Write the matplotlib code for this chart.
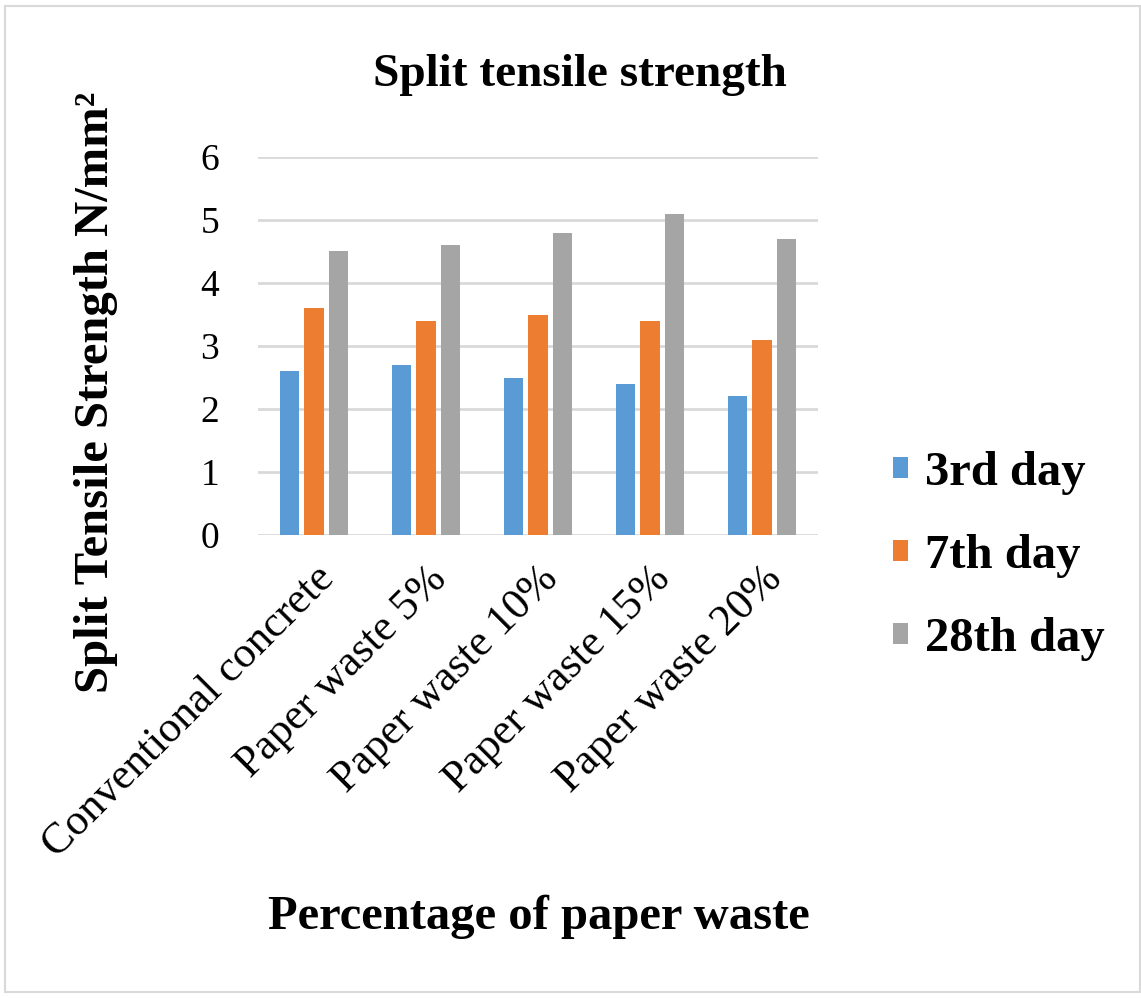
import numpy as np
import matplotlib
matplotlib.use('Agg')
import matplotlib.pyplot as plt
from matplotlib.patches import Rectangle

categories = ['Conventional concrete', 'Paper waste 5%', 'Paper waste 10%',
              'Paper waste 15%', 'Paper waste 20%']
day3 = [2.6, 2.7, 2.5, 2.4, 2.2]
day7 = [3.6, 3.4, 3.5, 3.4, 3.1]
day28 = [4.5, 4.6, 4.8, 5.1, 4.7]
series = [('3rd day', day3, '#5B9BD5'),
          ('7th day', day7, '#ED7D31'),
          ('28th day', day28, '#A5A5A5')]

plt.rcParams['font.family'] = ['Liberation Serif', 'DejaVu Serif']

fig = plt.figure(figsize=(11.41, 9.98), dpi=100)
fig.patches.append(Rectangle((0.004, 0.006), 0.995, 0.988, transform=fig.transFigure,
                             fill=False, edgecolor='#D9D9D9', linewidth=1.5))

ax = fig.add_axes([0.2261, 0.4639, 0.4908, 0.3788])
x = np.arange(len(categories))
w = 0.17
pitch = 0.215
handles = []
for i, (name, vals, col) in enumerate(series):
    b = ax.bar(x + (i - 1) * pitch, vals, width=w, color=col, label=name, zorder=3)
    handles.append(b)

ax.set_xlim(-0.5, len(categories) - 0.5)
ax.set_ylim(0, 6)
ax.set_yticks(range(0, 7))
ax.yaxis.grid(True, color='#D9D9D9', linewidth=2, zorder=0)
ax.set_axisbelow(True)
for s in ax.spines.values():
    s.set_visible(False)
ax.tick_params(axis='both', length=0)
ax.tick_params(axis='y', pad=28, labelsize=27)
ax.tick_params(axis='x', pad=17, labelsize=31.5)
ax.set_xticks(x)
ax.set_xticklabels(categories, rotation=45, ha='right', rotation_mode='anchor')

fig.text(0.508, 0.925, 'Split tensile strength', ha='center', va='center',
         fontsize=34, fontweight='bold')
fig.text(0.084, 0.607, 'Split Tensile Strength N/mm²', rotation=90,
         ha='center', va='center', fontsize=35, fontweight='bold')
fig.text(0.472, 0.081, 'Percentage of paper waste', ha='center', va='center',
         fontsize=35, fontweight='bold')

fig.legend(handles=handles, labels=[s[0] for s in series],
           loc='center left', bbox_to_anchor=(0.783, 0.443), frameon=False,
           prop={'size': 35, 'weight': 'bold'}, handlelength=0.3, handleheight=0.3,
           handletextpad=0.35, labelspacing=0.8, borderpad=0, borderaxespad=0)

fig.savefig('out.png', dpi=100)
